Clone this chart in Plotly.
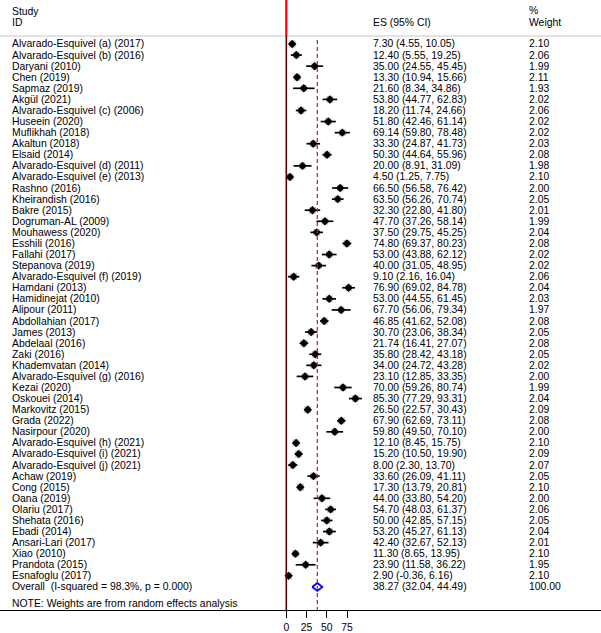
import plotly.graph_objects as go

studies = ["Alvarado-Esquivel (a) (2017)", "Alvarado-Esquivel (b) (2016)", "Daryani (2010)", "Chen (2019)",
           "Sapmaz (2019)", "Akgül (2021)", "Alvarado-Esquivel (c) (2006)", "Huseein (2020)", "Muflikhah (2018)",
           "Akaltun (2018)", "Elsaid (2014)", "Alvarado-Esquivel (d) (2011)", "Alvarado-Esquivel (e) (2013)",
           "Rashno (2016)", "Kheirandish (2016)", "Bakre (2015)", "Dogruman-AL (2009)", "Mouhawess (2020)",
           "Esshili (2016)", "Fallahi (2017)", "Stepanova (2019)", "Alvarado-Esquivel (f) (2019)", "Hamdani (2013)",
           "Hamidinejat (2010)", "Alipour (2011)", "Abdollahian (2017)", "James (2013)", "Abdelaal (2016)",
           "Zaki (2016)", "Khademvatan (2014)", "Alvarado-Esquivel (g) (2016)", "Kezai (2020)", "Oskouei (2014)",
           "Markovitz (2015)", "Grada (2022)", "Nasirpour (2020)", "Alvarado-Esquivel (h) (2021)",
           "Alvarado-Esquivel (i) (2021)", "Alvarado-Esquivel (j) (2021)", "Achaw (2019)", "Cong (2015)",
           "Oana (2019)", "Olariu (2017)", "Shehata (2016)", "Ebadi (2014)", "Ansari-Lari (2017)", "Xiao (2010)",
           "Prandota (2015)", "Esnafoglu (2017)"]
es = [7.30, 12.40, 35.00, 13.30, 21.60, 53.80, 18.20, 51.80, 69.14, 33.30, 50.30, 20.00, 4.50, 66.50, 63.50,
      32.30, 47.70, 37.50, 74.80, 53.00, 40.00, 9.10, 76.90, 53.00, 67.70, 46.85, 30.70, 21.74, 35.80, 34.00,
      23.10, 70.00, 85.30, 26.50, 67.90, 59.80, 12.10, 15.20, 8.00, 33.60, 17.30, 44.00, 54.70, 50.00, 53.20,
      42.40, 11.30, 23.90, 2.90]
lo = [4.55, 5.55, 24.55, 10.94, 8.34, 44.77, 11.74, 42.46, 59.80, 24.87, 44.64, 8.91, 1.25, 56.58, 56.26,
      22.80, 37.26, 29.75, 69.37, 43.88, 31.05, 2.16, 69.02, 44.55, 56.06, 41.62, 23.06, 16.41, 28.42, 24.72,
      12.85, 59.26, 77.29, 22.57, 62.69, 49.50, 8.45, 10.50, 2.30, 26.09, 13.79, 33.80, 48.03, 42.85, 45.27,
      32.67, 8.65, 11.58, -0.36]
hi = [10.05, 19.25, 45.45, 15.66, 34.86, 62.83, 24.66, 61.14, 78.48, 41.73, 55.96, 31.09, 7.75, 76.42, 70.74,
      41.80, 58.14, 45.25, 80.23, 62.12, 48.95, 16.04, 84.78, 61.45, 79.34, 52.08, 38.34, 27.07, 43.18, 43.28,
      33.35, 80.74, 93.31, 30.43, 73.11, 70.10, 15.75, 19.90, 13.70, 41.11, 20.81, 54.20, 61.37, 57.15, 61.13,
      52.13, 13.95, 36.22, 6.16]
weights = [2.10, 2.06, 1.99, 2.11, 1.93, 2.02, 2.06, 2.02, 2.02, 2.03, 2.08, 1.98, 2.10, 2.00, 2.05, 2.01, 1.99,
           2.04, 2.08, 2.02, 2.02, 2.06, 2.04, 2.03, 1.97, 2.08, 2.05, 2.08, 2.05, 2.02, 2.00, 1.99, 2.04, 2.09,
           2.08, 2.00, 2.10, 2.09, 2.07, 2.05, 2.10, 2.00, 2.06, 2.05, 2.04, 2.01, 2.10, 1.95, 2.10]
overall_label = "Overall  (I-squared = 98.3%, p = 0.000)"
overall_es, overall_lo, overall_hi, overall_w = 38.27, 32.04, 44.49, 100.00
tick_vals = [0, 25, 50, 75]
note = "NOTE: Weights are from random effects analysis"

W, H = 601, 633
FONT = "Liberation Sans, Arial, Helvetica, sans-serif"
FS = 10.4

n = len(studies)
rows = list(range(n))
overall_row = n

fig = go.Figure()

# CI lines
cx, cy = [], []
for i in rows:
    cx += [lo[i], hi[i], None]
    cy += [i, i, None]
fig.add_trace(go.Scatter(x=cx, y=cy, mode="lines", line=dict(color="black", width=1.7),
                         hoverinfo="skip", showlegend=False))
# gray weight boxes
fig.add_trace(go.Scatter(x=es, y=rows, mode="markers",
                         marker=dict(symbol="square", size=[w * 3.3 for w in weights], color="#a8a8a8",
                                     line=dict(width=0)),
                         showlegend=False))
# point estimates
fig.add_trace(go.Scatter(x=es, y=rows, mode="markers",
                         marker=dict(symbol="diamond", size=6.5, color="black", line=dict(width=0)),
                         showlegend=False))
# overall diamond
dh = 0.36
fig.add_trace(go.Scatter(x=[overall_lo, overall_es, overall_hi, overall_es, overall_lo],
                         y=[overall_row, overall_row - dh, overall_row, overall_row + dh, overall_row],
                         mode="lines", line=dict(color="#0000ff", width=1.8), showlegend=False))

ymax = 51.08
ymin = -3.97
px_per_unit = 0.81
zero_px = 286.3
xmin = -zero_px / px_per_unit
xmax = (W - zero_px) / px_per_unit

shapes = []
# header separator
shapes.append(dict(type="line", xref="paper", x0=0, x1=1, yref="y", y0=-0.72, y1=-0.72,
                   line=dict(color="#c8c8c8", width=1.2)))
# null line: red top part, dark below
shapes.append(dict(type="line", xref="x", x0=0, x1=0, yref="y", y0=ymin, y1=-0.72,
                   line=dict(color="#ff0000", width=2.2)))
shapes.append(dict(type="line", xref="x", x0=0, x1=0, yref="y", y0=-0.72, y1=ymax,
                   line=dict(color="#5c0000", width=1.6)))
# overall dashed line
shapes.append(dict(type="line", xref="x", x0=overall_es, x1=overall_es, yref="y", y0=-0.35, y1=ymax,
                   line=dict(color="#b22222", width=1.2, dash="4px,3px")))

annotations = []
def txt(xpx, y, s):
    annotations.append(dict(xref="paper", x=xpx / W, yref="y", y=y, text=s, showarrow=False,
                            xanchor="left", yanchor="middle", align="left",
                            font=dict(family=FONT, size=FS, color="black")))

txt(10, -2.93, "Study")
txt(10, -1.93, "ID")
txt(370.7, -1.93, "ES (95% CI)")
txt(526.5, -3.0, "%")
txt(526.5, -1.93, "Weight")
for i in rows:
    txt(10, i, studies[i])
    txt(370.7, i, f"{es[i]:.2f} ({lo[i]:.2f}, {hi[i]:.2f})")
    txt(526.5, i, f"{weights[i]:.2f}")
txt(10, overall_row, overall_label)
txt(370.7, overall_row, f"{overall_es:.2f} ({overall_lo:.2f}, {overall_hi:.2f})")
txt(526.5, overall_row, f"{overall_w:.2f}")
txt(10, 50.5, note)

fig.update_layout(
    width=W, height=H,
    margin=dict(l=0, r=0, t=0, b=23, pad=0),
    paper_bgcolor="white", plot_bgcolor="white",
    shapes=shapes, annotations=annotations,
    showlegend=False,
    xaxis=dict(range=[xmin, xmax], tickvals=tick_vals, ticktext=[str(t) for t in tick_vals],
               showgrid=False, zeroline=False, showline=True, linecolor="black", linewidth=1.2,
               ticks="outside", ticklen=7, tickwidth=1.2, tickcolor="black",
               tickfont=dict(family=FONT, size=FS, color="black"), fixedrange=True),
    yaxis=dict(range=[ymax, ymin], showgrid=False, zeroline=False, showline=False,
               showticklabels=False, ticks="", fixedrange=True),
)

fig.write_html("out.html", config={"displayModeBar": False},
               post_script="document.body.style.margin='0px';document.body.style.overflow='hidden';")
